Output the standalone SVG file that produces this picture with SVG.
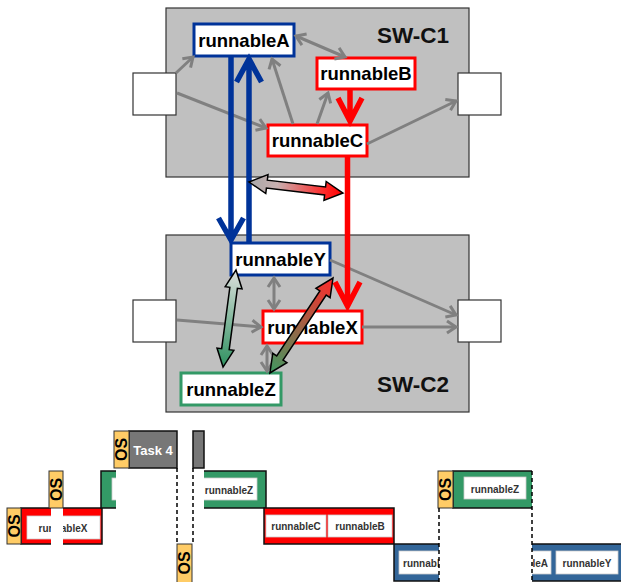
<svg xmlns="http://www.w3.org/2000/svg" width="621" height="582" viewBox="0 0 621 582">
<style>
text{font-family:"Liberation Sans",Arial,sans-serif;font-weight:bold}
.swc{fill:#c0c0c0;stroke:#333;stroke-width:1.2}
.lbl{font-size:22.5px;fill:#111}
.port{fill:#fff;stroke:#333;stroke-width:1.2}
.node{fill:#fff;stroke-width:3}
.blue{stroke:#003399}
.red{stroke:#ff0000}
.green{stroke:#339966}
.nt{font-size:18.5px;fill:#000;text-anchor:middle}
.g{fill:none;stroke:#808080;stroke-width:3}
.thick{fill:none;stroke-width:5.5;stroke-linejoin:miter}
.blk{stroke:#000;stroke-width:1.5;stroke-linejoin:miter}
.os{fill:#ffcc66;stroke:#333;stroke-width:1}
.ost{font-size:16px;fill:#000;text-anchor:middle}
.bar{stroke:#111;stroke-width:1.5}
.in{fill:#fff;stroke:#ccc;stroke-width:0.8}
.tt{font-size:10px;fill:#333;text-anchor:middle}
.dash{stroke:#000;stroke-width:1.5;stroke-dasharray:4,3;fill:none}
.cover{fill:#fff}
</style>
<defs>
<marker id="ga" markerUnits="userSpaceOnUse" markerWidth="20" markerHeight="20" refX="0" refY="0" orient="auto-start-reverse" overflow="visible">
<path d="M-9,-6 L0,0 L-9,6" fill="none" stroke="#808080" stroke-width="3"/>
</marker>
<linearGradient id="grGR" x1="0" y1="0" x2="1" y2="0">
<stop offset="0" stop-color="#a8a8a8"/>
<stop offset="0.3" stop-color="#c8b0b0"/>
<stop offset="0.8" stop-color="#ff2a2a"/>
<stop offset="1" stop-color="#ff0000"/>
</linearGradient>
<linearGradient id="grYZ" x1="0" y1="0" x2="1" y2="0">
<stop offset="0" stop-color="#dde0dd"/>
<stop offset="1" stop-color="#2e9160"/>
</linearGradient>
<linearGradient id="grXZ" x1="0" y1="0" x2="1" y2="0">
<stop offset="0" stop-color="#ff2a2a"/>
<stop offset="1" stop-color="#3f9960"/>
</linearGradient>
</defs>
<rect width="621" height="582" fill="#fff"/>

<g id="SW-C1">
<rect class="swc" x="166" y="8" width="303" height="169"/>
<text class="lbl" x="377" y="43">SW-C1</text>
</g>
<g id="SW-C2">
<rect class="swc" x="166" y="235" width="303" height="177"/>
<text class="lbl" x="377" y="392">SW-C2</text>
</g>
<g id="port-c1-in"><rect class="port" x="133" y="73" width="43" height="42"/></g>
<g id="port-c1-out"><rect class="port" x="458" y="73" width="43" height="42"/></g>
<g id="port-c2-in"><rect class="port" x="133" y="300" width="43" height="42"/></g>
<g id="port-c2-out"><rect class="port" x="458" y="300" width="43" height="42"/></g>

<g id="runnableA"><rect class="node blue" x="194" y="24" width="100" height="32"/><text class="nt" x="244" y="46.5">runnableA</text></g>
<g id="runnableB"><rect class="node red" x="317" y="58" width="98" height="31"/><text class="nt" x="366" y="80">runnableB</text></g>
<g id="runnableC"><rect class="node red" x="268" y="125" width="99" height="31"/><text class="nt" x="317.5" y="147">runnableC</text></g>
<g id="runnableY"><rect class="node blue" x="231" y="243" width="99" height="32"/><text class="nt" x="280.5" y="265.5">runnableY</text></g>
<g id="runnableX"><rect class="node red" x="263" y="311" width="99" height="32"/><text class="nt" x="312.5" y="333.5">runnableX</text></g>
<g id="runnableZ"><rect class="node green" x="181" y="373" width="100" height="32"/><text class="nt" x="231" y="395.5">runnableZ</text></g>

<g id="connectors">
<line class="g" x1="176" y1="73" x2="193" y2="57" marker-end="url(#ga)"/>
<line class="g" x1="177" y1="93" x2="266" y2="128" marker-end="url(#ga)"/>
<line class="g" x1="293" y1="124" x2="272" y2="59" marker-end="url(#ga)"/>
<line class="g" x1="317" y1="124" x2="328" y2="93" marker-end="url(#ga)"/>
<line class="g" x1="296" y1="36" x2="345" y2="57" marker-start="url(#ga)" marker-end="url(#ga)"/>
<line class="g" x1="367" y1="144" x2="456" y2="101" marker-end="url(#ga)"/>
<line class="g" x1="330" y1="260" x2="456" y2="315" marker-end="url(#ga)"/>
<line class="g" x1="177" y1="320" x2="261" y2="327" marker-end="url(#ga)"/>
<line class="g" x1="362" y1="327" x2="456" y2="327" marker-end="url(#ga)"/>
<line class="g" x1="274" y1="278" x2="274" y2="309" marker-start="url(#ga)" marker-end="url(#ga)"/>
<line class="g" x1="267" y1="346" x2="267" y2="371" marker-start="url(#ga)" marker-end="url(#ga)"/>

<path class="thick red" d="M350,89 V121 M338,98 L350,121 L362,98"/>
<path class="thick red" d="M347.5,156 V306 M335,282 L347.5,306 L360,282"/>
<path class="thick blue" d="M231,56 V240 M218.5,218 L231,240 L243.5,218"/>
<path class="thick blue" d="M249,243 V59 M236.5,82 L249,59 L261.5,82"/>

<path class="blk" fill="url(#grGR)" transform="translate(249,182) rotate(6.7)" d="M0,0 L18,-9.5 L18,-4 L76.6,-4 L76.6,-9.5 L94.6,0 L76.6,9.5 L76.6,4 L18,4 L18,9.5 Z"/>
<path class="blk" fill="url(#grYZ)" transform="translate(236,270) rotate(97.6)" d="M0,0 L18,-8.5 L18,-3.8 L79.9,-3.8 L79.9,-8.5 L97.9,0 L79.9,8.5 L79.9,3.8 L18,3.8 L18,8.5 Z"/>
<path class="blk" fill="url(#grXZ)" transform="translate(333,278) rotate(123.6)" d="M0,0 L18,-8.5 L18,-3.8 L96,-3.8 L96,-8.5 L114,0 L96,8.5 L96,3.8 L18,3.8 L18,8.5 Z"/>
</g>

<g id="timeline">
<rect class="bar" x="21" y="508" width="81" height="36" fill="#ff0000"/>
<rect class="in" x="27" y="516" width="73" height="23"/>
<text class="tt" x="63" y="531.5">runnableX</text>
<rect class="cover" x="51" y="507" width="12" height="38.5"/>
<rect class="os" x="7" y="508" width="14" height="36"/>
<text class="ost" transform="translate(14,526) rotate(-90)" y="5.7">OS</text>
<rect class="os" x="49" y="471" width="14" height="37"/>
<text class="ost" transform="translate(56,489.5) rotate(-90)" y="5.7">OS</text>

<rect class="bar" x="101" y="471" width="165" height="37" fill="#339966"/>
<rect class="in" x="112" y="478" width="145" height="22"/>
<text class="tt" x="229" y="493.5">runnableZ</text>
<rect class="cover" x="116" y="468" width="88" height="41"/>
<rect class="bar" x="129" y="431" width="48" height="37" fill="#777"/>
<text x="153" y="454.5" font-size="13px" fill="#fff" text-anchor="middle">Task 4</text>
<rect class="bar" x="193" y="431" width="11" height="37" fill="#777"/>
<rect class="os" x="114" y="431" width="15" height="37"/>
<text class="ost" transform="translate(121.5,449.5) rotate(-90)" y="5.7">OS</text>
<line class="dash" x1="177" y1="468" x2="177" y2="544"/>
<line class="dash" x1="193" y1="468" x2="193" y2="544"/>
<rect class="os" x="177" y="544" width="15" height="40"/>
<text class="ost" transform="translate(184.5,563) rotate(-90)" y="5.7">OS</text>

<rect class="bar" x="264" y="508" width="130" height="36" fill="#ff0000"/>
<rect class="in" x="266" y="515" width="60" height="22"/>
<text class="tt" x="296" y="530">runnableC</text>
<rect class="in" x="328" y="515" width="64" height="22"/>
<text class="tt" x="360" y="530">runnableB</text>

<rect class="bar" x="394" y="544" width="230" height="37" fill="#336699"/>
<rect class="in" x="399" y="551" width="62" height="23"/>
<text class="tt" x="403" y="566.5" text-anchor="start" style="text-anchor:start">runnableA</text>
<rect class="in" x="489" y="551" width="62" height="23"/>
<text class="tt" x="548" y="566.5" style="text-anchor:end">runnableA</text>
<rect class="in" x="556" y="551" width="62" height="23"/>
<text class="tt" x="587" y="566.5">runnableY</text>
<rect class="cover" x="439" y="508" width="93" height="74"/>
<rect x="453" y="471" width="79" height="37" fill="#339966"/>
<path d="M532,471 H453 V508 H532" fill="none" stroke="#111" stroke-width="1.5"/>
<rect class="in" x="464" y="477" width="62" height="22"/>
<text class="tt" x="495" y="492.5">runnableZ</text>
<rect class="os" x="438" y="471" width="15" height="37"/>
<text class="ost" transform="translate(445.5,489.5) rotate(-90)" y="5.7">OS</text>
<line class="dash" x1="439" y1="508" x2="439" y2="582"/>
<line class="dash" x1="532" y1="471" x2="532" y2="582"/>
</g>
</svg>
